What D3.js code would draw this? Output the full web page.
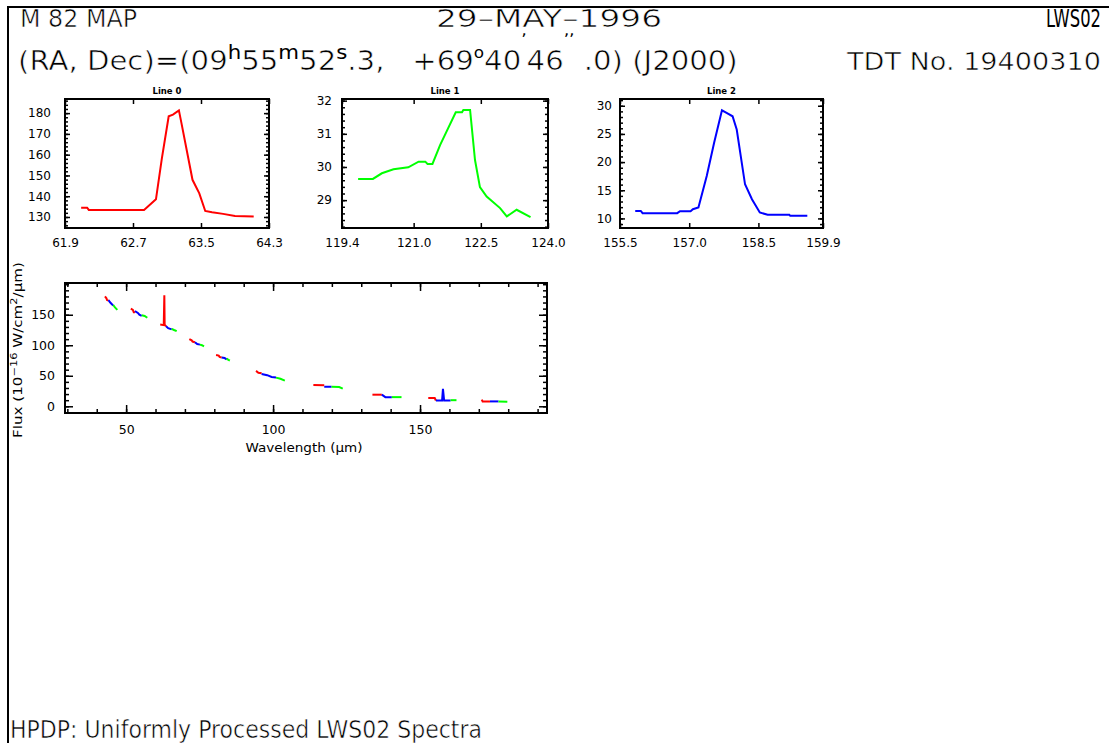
<!DOCTYPE html>
<html><head><meta charset="utf-8">
<script src="https://cdn.jsdelivr.net/npm/d3@7"></script>
<style>
body{margin:0;background:#fff}
svg{display:block}
text{font-family:"DejaVu Sans","Liberation Sans",sans-serif;fill:#000}
.thin{stroke:#fff;stroke-width:0.6px;paint-order:normal}
.thin .sup,.thin .nostroke{stroke:none}
</style>
</head><body>
<svg id="c" width="1109" height="743"></svg>
<script>
// ---------- data ----------
const line0Wave = [62.09,62.16,62.18,62.83,62.97,63.04,63.12,63.17,63.24,63.27,63.40,63.48,63.55,63.63,63.76,63.90,64.12];
const line0Flux = [134.5,134.5,133.4,133.4,138.5,158.3,178.5,179.3,181.3,175.2,147.9,141.4,132.9,132.3,131.5,130.5,130.2];
const line1Wave = [119.76,120.09,120.29,120.55,120.88,121.11,121.26,121.31,121.42,121.59,121.94,122.08,122.11,122.26,122.37,122.48,122.63,122.93,123.08,123.30,123.61];
const line1Flux = [29.64,29.64,29.81,29.93,29.99,30.16,30.16,30.09,30.09,30.66,31.65,31.65,31.72,31.72,30.21,29.39,29.11,28.76,28.51,28.71,28.49];
const line2Wave = [155.83,155.95,155.99,156.74,156.80,157.03,157.08,157.20,157.38,157.54,157.71,157.81,157.94,158.03,158.21,158.36,158.53,158.70,159.17,159.19,159.56];
const line2Flux = [11.34,11.34,10.94,10.94,11.29,11.29,11.64,11.94,17.53,23.43,29.19,28.73,28.13,25.78,16.06,13.41,11.06,10.64,10.64,10.46,10.46];

const panelTitles = ["Line 0","Line 1","Line 2"];
const panelXTicks = [[61.9,62.7,63.5,64.3],[119.4,121.0,122.5,124.0],[155.5,157.0,158.5,159.9]];
const panelYTicks = [[130,140,150,160,170,180],[29,30,31,32],[10,15,20,25,30]];

// full spectrum: detector pieces [wavelength, flux]
const bigRed = [
  [[42.8,180],[43.3,177],[43.5,174],[44.0,173]],
  [[51.6,160],[52.3,158],[52.6,154],[53.0,154]],
  [[61.6,134],[62.8,133],[63.0,182],[63.1,134],[63.6,131]],
  [[71.5,110],[72.3,108],[72.6,106],[73.4,105]],
  [[80.6,84],[81.5,83],[81.8,81],[82.5,80]],
  [[94.2,58],[95.0,55],[96.1,54]],
  [[113.7,35],[117.4,34.5]],
  [[133.8,19],[137.0,19]],
  [[152.8,13.5],[155.0,13.5],[155.4,9.5]],
  [[171.0,11],[171.3,8],[173.8,8]]
];
const bigBlue = [
  [[44.0,174],[44.6,170],[45.0,168],[45.6,165]],
  [[53.0,156],[54.0,153],[54.5,150],[55.3,148]],
  [[63.6,131],[64.3,128],[65.5,126]],
  [[73.4,105],[74.2,102],[75.1,101]],
  [[82.5,80],[83.5,79],[84.2,77]],
  [[96.1,53],[98.0,51],[99.5,48],[101.0,47]],
  [[117.4,32],[119.9,32]],
  [[137.0,19],[138.2,15],[140.4,15]],
  [[155.4,9.5],[157.5,9.5],[157.8,28.7],[158.2,9.5],[160.4,9.5]],
  [[173.8,8],[176.7,8]]
];
const bigGreen = [
  [[45.6,166],[46.2,162],[47.0,158]],
  [[55.3,149],[56.3,148],[57.2,145]],
  [[65.5,127],[66.3,125],[67.2,123]],
  [[75.1,101],[75.8,100],[76.5,98]],
  [[84.2,78],[84.8,76],[85.3,75]],
  [[101.0,47],[102.5,45],[104.0,42]],
  [[119.9,32],[122.5,31.5],[123.7,29]],
  [[140.4,15],[143.7,15]],
  [[160.4,10],[162.4,10]],
  [[176.7,8],[179.7,7.5]]
];
const bigXTicks = [50,100,150];
const bigYTicks = [0,50,100,150];

// ---------- drawing ----------
const svg = d3.select("#c");
const RED="#ff0000", GREEN="#00ff00", BLUE="#0000ff";

// frame
svg.append("path").attr("d","M8,743V7H1109").attr("fill","none").attr("stroke","#000").attr("stroke-width",2);

// header
function fitText(sel, w){ sel.attr("textLength",w).attr("lengthAdjust","spacingAndGlyphs"); return sel; }
const hdr = svg.append("g").attr("font-size",25).attr("class","thin");
fitText(hdr.append("text").attr("x",20).attr("y",27).text("M 82 MAP"),117);
fitText(hdr.append("text").attr("x",436).attr("y",27).text("29\u2013MAY\u20131996"),226);
fitText(hdr.append("text").attr("class","nostroke").attr("x",0).attr("y",0).attr("font-size",18).attr("transform","translate(1046,27) scale(1,1.38)").text("LWS02"),55);
fitText(hdr.append("text").attr("x",847).attr("y",70).text("TDT No. 19400310"),254);

const l2 = svg.append("text").attr("class","thin").attr("font-size",26).attr("xml:space","preserve").attr("x",0).attr("y",0);
const parts = [
  ["(RA, Dec)=(09",26,0,0],["h",19,-11,1],["55",26,11,0],["m",19,-11,1],["52",26,11,0],["s",19,-11,1],
  [".3,   +69",26,11,0],["o",15,-12,1],["40",26,12,0],["\u02bc",15,-25,1],["46",26,25,0],["\u02bc\u02bc",15,-25,1],[" .0) (J2000)",26,25,0]
];
parts.forEach(p=>l2.append("tspan").attr("class",p[3]?"sup":null).attr("font-size",p[1]).attr("dy",p[2]).text(p[0]));
{
  const w = l2.node().getBBox().width;
  l2.attr("transform",`translate(18,70) scale(${720/w},1)`);
}

// footer
fitText(svg.append("text").attr("class","thin").attr("font-size",25).attr("x",10).attr("y",738).text("HPDP: Uniformly Processed LWS02 Spectra"),472);

// axis helper
function drawAxes(g, x, y, o){
  const [x0,x1]=x.range(), [yb,yt]=y.range();
  const styleTicks = a=>{ a.select(".domain").remove(); a.selectAll("line").attr("stroke","#000").attr("stroke-width",1.5); };
  // minors
  g.append("g").attr("transform",`translate(0,${yb})`).call(d3.axisBottom(x).tickValues(o.xMinor).tickSize(-o.minLen).tickFormat("")).call(styleTicks);
  g.append("g").attr("transform",`translate(0,${yt})`).call(d3.axisTop(x).tickValues(o.xMinor).tickSize(-o.minLen).tickFormat("")).call(styleTicks);
  g.append("g").attr("transform",`translate(${x0},0)`).call(d3.axisLeft(y).tickValues(o.yMinor).tickSize(-o.minLen).tickFormat("")).call(styleTicks);
  g.append("g").attr("transform",`translate(${x1},0)`).call(d3.axisRight(y).tickValues(o.yMinor).tickSize(-o.minLen).tickFormat("")).call(styleTicks);
  // majors
  const bx = g.append("g").attr("transform",`translate(0,${yb})`).call(d3.axisBottom(x).tickValues(o.xTicks).tickSize(-o.majLen).tickPadding(o.xPad).tickFormat(o.xFmt)).call(styleTicks);
  g.append("g").attr("transform",`translate(0,${yt})`).call(d3.axisTop(x).tickValues(o.xTicks).tickSize(-o.majLen).tickFormat("")).call(styleTicks);
  const ly = g.append("g").attr("transform",`translate(${x0},0)`).call(d3.axisLeft(y).tickValues(o.yTicks).tickSize(-o.majLen).tickPadding(o.yPad).tickFormat(o.yFmt)).call(styleTicks);
  g.append("g").attr("transform",`translate(${x1},0)`).call(d3.axisRight(y).tickValues(o.yTicks).tickSize(-o.majLen).tickFormat("")).call(styleTicks);
  [bx,ly].forEach(a=>a.attr("font-family",null).attr("font-size",null).selectAll("text").attr("font-size",o.fs).attr("fill","#000"));
  g.append("rect").attr("x",x0).attr("y",yt).attr("width",x1-x0).attr("height",yb-yt).attr("fill","none").attr("stroke","#000").attr("stroke-width",2);
}

// small panels
const panelLeft=[65,342,620], panelW=[204,206,203], pTop=99, pBot=228;
const panelXDom=[[61.9,64.3],[119.4,124.0],[155.5,159.9]];
const panelYDom=[[124.7,186.8],[28.16,32.05],[8.3,31.2]];
const panelMinor=[2,0.2,1];
const panelYPad=[14,10,8];
const panelData=[[line0Wave,line0Flux,RED],[line1Wave,line1Flux,GREEN],[line2Wave,line2Flux,BLUE]];
const fmt1=d3.format(".1f");

panelData.forEach((pd,i)=>{
  const g=svg.append("g");
  const x=d3.scaleLinear().domain(panelXDom[i]).range([panelLeft[i],panelLeft[i]+panelW[i]]);
  const y=d3.scaleLinear().domain(panelYDom[i]).range([pBot,pTop]);
  const yt=panelYTicks[i], step=panelMinor[i];
  const yMinor=d3.range(Math.ceil(panelYDom[i][0]/step)*step, panelYDom[i][1], step).map(v=>+v.toFixed(3));
  drawAxes(g,x,y,{xTicks:panelXTicks[i],xMinor:[],yTicks:yt,yMinor:yMinor,majLen:5,minLen:3,xPad:10,yPad:panelYPad[i],fs:12,xFmt:fmt1,yFmt:d3.format("d")});
  g.append("path").datum(d3.zip(pd[0],pd[1])).attr("fill","none").attr("stroke",pd[2]).attr("stroke-width",2)
    .attr("d",d3.line().x(d=>x(d[0])).y(d=>y(d[1])));
  g.append("text").attr("x",panelLeft[i]+panelW[i]/2).attr("y",94).attr("text-anchor","middle").attr("font-size",8.5).attr("font-weight","bold").text(panelTitles[i]);
});

// big spectrum panel
{
  const g=svg.append("g");
  const x=d3.scaleLinear().domain([29.2,193.2]).range([65,547]);
  const y=d3.scaleLinear().domain([-11,202]).range([413,283]);
  drawAxes(g,x,y,{xTicks:bigXTicks,xMinor:d3.range(30,191,10),yTicks:bigYTicks,yMinor:d3.range(-10,201,10),majLen:8,minLen:4,xPad:12,yPad:10,fs:12.5,xFmt:d3.format("d"),yFmt:d3.format("d")});
  const line=d3.line().x(d=>x(d[0])).y(d=>y(d[1]));
  [[bigRed,RED],[bigBlue,BLUE],[bigGreen,GREEN]].forEach(([segs,c])=>{
    g.selectAll(null).data(segs).join("path").attr("fill","none").attr("stroke",c).attr("stroke-width",2).attr("d",line);
  });
  const xl=g.append("text").attr("x",304).attr("y",452).attr("text-anchor","middle").attr("font-size",12).text("Wavelength (\u03bcm)");
  xl.attr("textLength",117).attr("lengthAdjust","spacingAndGlyphs");
  const yl=g.append("text").attr("text-anchor","middle").attr("font-size",12);
  [["Flux (10",12,0],["\u221216",9,-5],[" W/cm",12,5],["2",9,-5],["/\u03bcm)",12,5]].forEach(p=>yl.append("tspan").attr("font-size",p[1]).attr("dy",p[2]).text(p[0]));
  const w=yl.node().getBBox().width;
  yl.attr("transform",`translate(22,350) rotate(-90) scale(${176/w},1)`);
}
</script>
</body></html>
